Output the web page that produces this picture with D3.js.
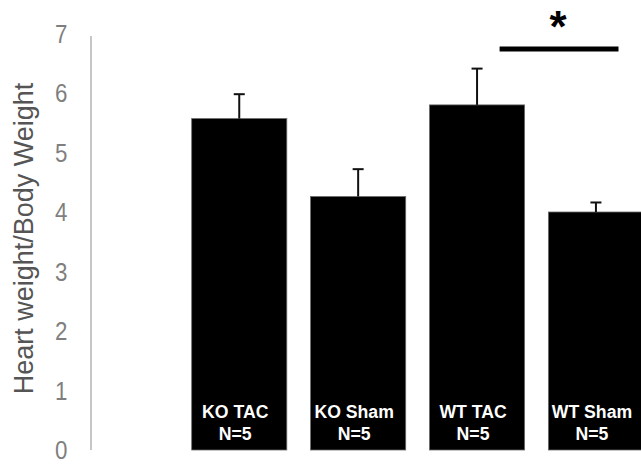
<!DOCTYPE html>
<html>
<head>
<meta charset="utf-8">
<script src="https://cdn.jsdelivr.net/npm/d3@7"></script>
<style>
  html, body { margin: 0; padding: 0; background: #fff; }
  svg { display: block; }
</style>
</head>
<body>
<svg id="chart" width="641" height="464"></svg>
<script>
// ---- data ----
const groups = ["KO TAC", "KO Sham", "WT TAC", "WT Sham"];
const groupN = ["N=5", "N=5", "N=5", "N=5"];
const means = [5.57, 4.26, 5.80, 4.00];
const errors = [0.41, 0.46, 0.61, 0.16];
const yTicks = [0, 1, 2, 3, 4, 5, 6, 7];
const yLabel = "Heart weight/Body Weight";
const sigPair = ["WT TAC", "WT Sham"];
const sigLevel = 6.74;
const sigMark = "*";

// ---- layout ----
const svg = d3.select("#chart");
const y = d3.scaleLinear().domain([0, 7]).range([450, 33.5]);
const x = d3.scaleBand().domain(groups).range([179.8, 655.4])
  .paddingInner(0.2).paddingOuter(0.1);
const FONT = "Liberation Sans, Arial, sans-serif";

// y axis line
svg.append("line")
  .attr("x1", 91).attr("x2", 91)
  .attr("y1", y(0)).attr("y2", y(7) + 2.5)
  .attr("stroke", "#a0a0a0").attr("stroke-width", 1.2);

// tick labels (slightly condensed like the source)
svg.append("g").selectAll("text").data(yTicks).join("text")
  .attr("transform", d => `translate(67.5,${y(d)}) scale(0.86,1)`)
  .attr("dy", "0.36em")
  .attr("text-anchor", "end")
  .attr("font-family", FONT)
  .attr("font-size", 26)
  .attr("fill", "#7f7f7f")
  .text(d => d);

// y axis title
svg.append("text")
  .attr("transform", `translate(33,238.5) rotate(-90)`)
  .attr("text-anchor", "middle")
  .attr("font-family", FONT)
  .attr("font-size", 27)
  .attr("fill", "#555555")
  .text(yLabel);

// bars
svg.append("g").selectAll("rect").data(groups).join("rect")
  .attr("x", d => x(d))
  .attr("y", (d, i) => y(means[i]))
  .attr("width", x.bandwidth())
  .attr("height", (d, i) => y(0) - y(means[i]))
  .attr("fill", "#000")
  .attr("stroke", "#6a6a6a").attr("stroke-width", 0.8);

// error bars
const eb = svg.append("g").attr("stroke", "#111").attr("stroke-width", 2);
groups.forEach((g, i) => {
  const cx = x(g) + x.bandwidth() / 2;
  eb.append("line").attr("x1", cx).attr("x2", cx)
    .attr("y1", y(means[i])).attr("y2", y(means[i] + errors[i]));
  eb.append("line").attr("x1", cx - 5.5).attr("x2", cx + 5.5)
    .attr("y1", y(means[i] + errors[i])).attr("y2", y(means[i] + errors[i]));
});

// labels inside bars (condensed)
const lab = svg.append("g")
  .attr("font-family", FONT)
  .attr("font-weight", "bold")
  .attr("font-size", 19)
  .attr("fill", "#fff")
  .attr("text-anchor", "middle");
groups.forEach((g, i) => {
  const cx = x(g) + x.bandwidth() / 2 - 4;
  lab.append("text").attr("transform", `translate(${cx},418) scale(0.93,1)`).text(g);
  lab.append("text").attr("transform", `translate(${cx},440) scale(0.93,1)`).text(groupN[i]);
});

// significance bar
const sx1 = x(sigPair[0]) + x.bandwidth() * 0.737;
const sx2 = x(sigPair[1]) + x.bandwidth() * 0.737;
svg.append("line")
  .attr("x1", sx1).attr("x2", sx2)
  .attr("y1", y(sigLevel)).attr("y2", y(sigLevel))
  .attr("stroke", "#000").attr("stroke-width", 5);
svg.append("text")
  .attr("x", (sx1 + sx2) / 2 - 1).attr("y", 41.5)
  .attr("text-anchor", "middle")
  .attr("font-family", FONT)
  .attr("font-weight", "bold")
  .attr("font-size", 44)
  .attr("fill", "#000")
  .text(sigMark);
</script>
</body>
</html>
